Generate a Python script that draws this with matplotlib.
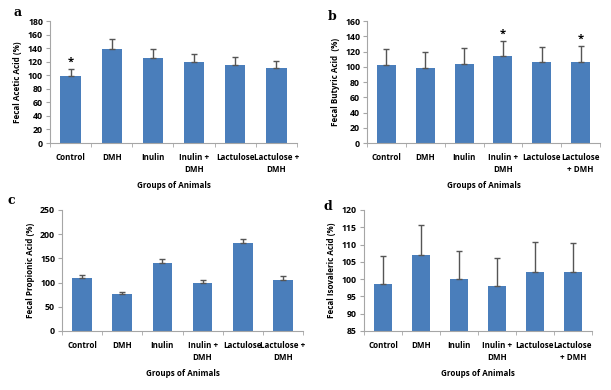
import matplotlib
matplotlib.use("Agg")
import matplotlib.pyplot as plt
import numpy as np

groups_ac = ["Control", "DMH", "Inulin", "Inulin +\nDMH", "Lactulose", "Lactulose +\nDMH"]
groups_bd = ["Control", "DMH", "Inulin", "Inulin +\nDMH", "Lactulose", "Lactulose\n+ DMH"]

acetic = [99, 139, 125, 119, 115, 110]
acetic_err = [10, 14, 13, 12, 12, 11]
acetic_star = [True, False, False, False, False, False]

butyric = [102, 98, 103, 113.5, 106, 106.5]
butyric_err = [21, 21, 21, 20.5, 20, 20.5]
butyric_star = [False, False, False, True, False, True]

propionic = [109, 76.5, 140, 99, 182, 106]
propionic_err = [6, 5, 8, 6, 9, 7]
propionic_star = [False] * 6

isovaleric = [98.6, 106.9, 100.0, 97.9, 102.2, 102.1]
isovaleric_err = [8.0, 8.8, 8.1, 8.2, 8.4, 8.3]
isovaleric_star = [False] * 6

plt.rcParams['font.family'] = ['Open Sans', 'DejaVu Sans']

fig = plt.figure(figsize=(6.11, 3.90), dpi=100)

BAR = "#4a7ebb"
AX = "#a6a6a6"

panels = [
    ("a", [0.0818, 0.6333, 0.4043, 0.3128], groups_ac, acetic, acetic_err, acetic_star,
     (0, 180), 20, "Fecal Acetic Acid (%)", (13/611, 1-13/390)),
    ("b", [0.6007, 0.6333, 0.3813, 0.3128], groups_bd, butyric, butyric_err, butyric_star,
     (0, 160), 20, "Fecal Butyric Acid  (%)", (328/611, 1-16/390)),
    ("c", [0.1015, 0.1513, 0.3944, 0.3103], groups_ac, propionic, propionic_err, propionic_star,
     (0, 250), 50, "Fecal Propionic Acid (%)", (8/611, 1-201/390)),
    ("d", [0.5957, 0.1513, 0.3732, 0.3103], groups_bd, isovaleric, isovaleric_err, isovaleric_star,
     (85, 120), 5, "Fecal Isovaleric Acid (%)", (324/611, 1-207/390)),
]

for letter, rect, labels, vals, errs, stars, ylim, step, ylabel, lpos in panels:
    ax = fig.add_axes(rect)
    x = np.arange(len(vals))
    lo = ylim[0]
    ax.bar(x, np.array(vals) - lo, bottom=lo, width=0.49, color=BAR, zorder=2)
    ax.errorbar(x, vals, yerr=[np.zeros(len(errs)), errs], fmt="none",
                ecolor="#555555", elinewidth=1.0, capsize=2.5, capthick=1.0, zorder=3)
    span = ylim[1] - ylim[0]
    for xi, v, e, s in zip(x, vals, errs, stars):
        if s:
            ax.text(xi, v + e + span * 0.01, "*", ha="center", va="bottom",
                    fontsize=8, fontweight="bold", color="black")
    ax.set_xlim(-0.5, len(vals) - 0.5)
    ax.set_ylim(*ylim)
    ax.set_yticks(np.arange(ylim[0], ylim[1] + step / 2, step))
    ax.set_xticks(x)
    ax.set_xticklabels(labels, fontsize=5.8, fontweight="bold", linespacing=1.45)
    ax.set_xticks(np.arange(-0.5, len(vals) + 0.5, 1), minor=True)
    ax.tick_params(axis="x", which="major", length=0, pad=7)
    ax.tick_params(axis="x", which="minor", length=3, color=AX, direction="out")
    ax.tick_params(axis="y", length=3, color=AX, labelsize=6.3, pad=2)
    for t in ax.get_yticklabels():
        t.set_fontweight("bold")
    for side in ["top", "right"]:
        ax.spines[side].set_visible(False)
    for side in ["left", "bottom"]:
        ax.spines[side].set_color(AX)
        ax.spines[side].set_linewidth(0.8)
    ax.set_ylabel(ylabel, fontsize=5.8, fontweight="bold", labelpad=4)
    ax.set_xlabel("Groups of Animals", fontsize=5.8, fontweight="bold", labelpad=5)
    fig.text(lpos[0], lpos[1], letter, fontsize=9, fontweight="bold",
             family="DejaVu Serif", ha="left", va="center")

fig.savefig("out.png", dpi=100)
